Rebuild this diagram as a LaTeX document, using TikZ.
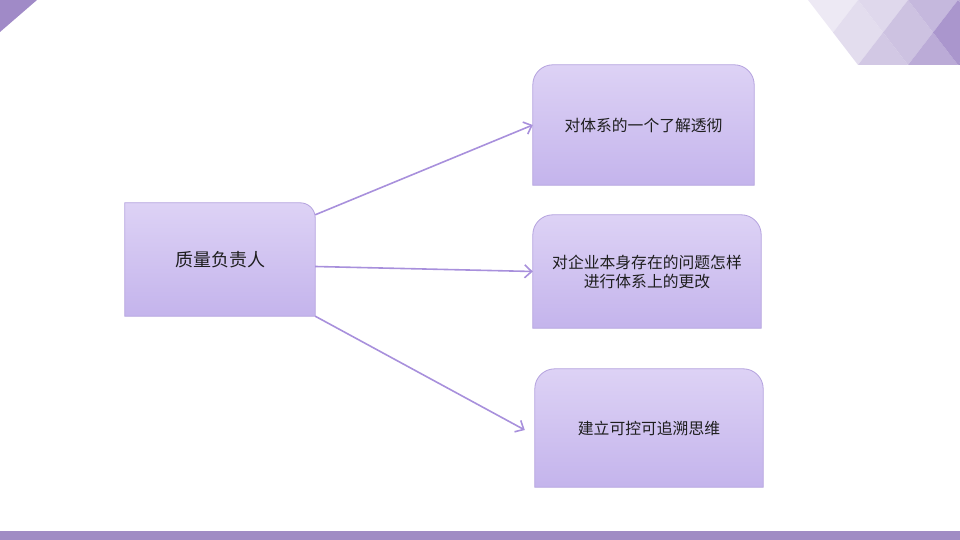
\documentclass[tikz,border=0pt]{standalone}
\usepackage{fontspec}
\newfontfamily\cjk{Noto Sans CJK SC}
\usetikzlibrary{arrows.meta}
\pgfdeclarelayer{background}
\pgfsetlayers{background,main}
\definecolor{boxtop}{RGB}{221,210,245}
\definecolor{boxbot}{RGB}{196,180,236}
\definecolor{boxline}{RGB}{180,162,222}
\definecolor{arrowcol}{RGB}{168,144,220}
\definecolor{purpbase}{RGB}{155,132,196}
\definecolor{barcol}{RGB}{160,140,196}
\definecolor{txtcol}{RGB}{30,30,30}
\tikzset{
  boxnode/.style={rectangle, inner sep=0pt, text=txtcol, align=center, font=\cjk\fontsize{15.8pt}{19pt}\selectfont},
  boxshape/.style={top color=boxtop, bottom color=boxbot, draw=boxline, line width=0.8pt},
  conn/.style={draw=arrowcol, line width=1.6pt, -{Straight Barb[length=7pt,width=13pt,line width=1.6pt]}},
}
\begin{document}
\begin{tikzpicture}[x=1pt,y=1pt]
\useasboundingbox (0,0) rectangle (960,540);
% corner decorations
\fill[purpbase!95] (0,540) -- (37,540) -- (0,508) -- cycle;
\fill[barcol] (0,0) rectangle (960,9);
\begin{scope}[shift={(0,540)},y=-1pt]
  \clip (808,0) -- (960,0) -- (960,65) -- (858,65) -- cycle;
  \fill[purpbase!18] (808,0) -- (858,0) -- (833,32.5) -- cycle;
  \fill[purpbase!28] (833,32.5) -- (858,0) -- (883,32.5) -- (858,65) -- cycle;
  \fill[purpbase!32] (858,0) -- (908,0) -- (883,32.5) -- cycle;
  \fill[purpbase!45] (858,65) -- (883,32.5) -- (908,65) -- cycle;
  \fill[purpbase!50] (883,32.5) -- (908,0) -- (933,32.5) -- (908,65) -- cycle;
  \fill[purpbase!58] (908,0) -- (958,0) -- (933,32.5) -- cycle;
  \fill[purpbase!68] (908,65) -- (933,32.5) -- (958,65) -- cycle;
  \fill[purpbase!85] (933,32.5) -- (958,0) -- (983,32.5) -- (958,65) -- cycle;
  \fill[purpbase!70] (958,0) -- (1008,0) -- (983,32.5) -- cycle;
  \fill[purpbase!90] (958,65) -- (983,32.5) -- (1008,65) -- cycle;
\end{scope}
% nodes
\node[boxnode, minimum width=190pt, minimum height=113pt, font=\cjk\fontsize{18pt}{22pt}\selectfont] (A) at (220,280.5) {\raisebox{-2pt}{质量负责人}};
\node[boxnode, minimum width=221pt, minimum height=120pt] (B1) at (643.5,415) {对体系的一个了解透彻};
\node[boxnode, minimum width=228pt, minimum height=113pt] (B2) at (647,268.5) {对企业本身存在的问题怎样\\进行体系上的更改};
\node[boxnode, minimum width=228pt, minimum height=118pt] (B3) at (649,112) {\raisebox{-3pt}{建立可控可追溯思维}};
\begin{pgfonlayer}{background}
  \path[boxshape] (A.south west) -- (A.north west) -- ([xshift=-15pt]A.north east)
     arc[start angle=90, end angle=0, radius=15pt] -- (A.south east) -- cycle;
  \foreach \b/\r in {B1/20,B2/20,B3/20}{
    \path[boxshape] (\b.south west) -- ([yshift=-\r pt]\b.north west)
       arc[start angle=180, end angle=90, radius=\r pt] -- ([xshift=-\r pt]\b.north east)
       arc[start angle=90, end angle=0, radius=\r pt] -- (\b.south east) -- cycle;
  }
\end{pgfonlayer}
% connectors
\draw[conn] ([yshift=-12pt]A.north east) -- (B1.west);
\draw[conn] ([yshift=-7pt]A.east) -- (B2.west);
\draw[conn] (A.south east) -- ([xshift=-10pt,yshift=-2pt]B3.west);
\end{tikzpicture}
\end{document}
